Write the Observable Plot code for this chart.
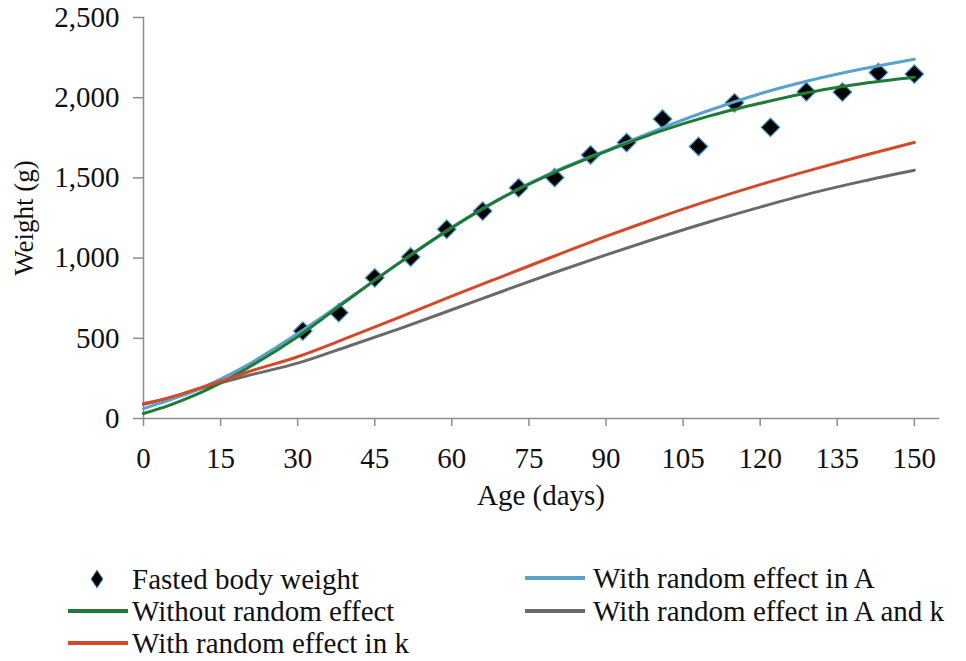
<!DOCTYPE html>
<html>
<head>
<meta charset="utf-8">
<script src="https://cdn.jsdelivr.net/npm/d3@7"></script>
<script src="https://cdn.jsdelivr.net/npm/@observablehq/plot@0.6"></script>
<style>
  html, body { margin: 0; padding: 0; background: #fff; overflow: hidden; }
  #wrap { position: relative; width: 966px; height: 661px; font-family: "Liberation Serif", "Times New Roman", serif; }
  .leg { position: absolute; display: flex; align-items: center; font-size: 29px; color: #111; white-space: nowrap; line-height: 1; }
  .leg svg { flex: none; }
</style>
</head>
<body>
<div id="wrap"></div>
<script>
// Observed data (Fasted body weight)
const obsAge = [31, 38, 45, 52, 59, 66, 73, 80, 87, 94, 101, 108, 115, 122, 129, 136, 143, 150];
const obsWeight = [545, 660, 877, 1007, 1180, 1293, 1438, 1502, 1643, 1720, 1867, 1696, 1968, 1815, 2037, 2035, 2157, 2147];

// Fitted curves
const curveAge = [0, 5, 10, 15, 20, 30, 40, 50, 60, 70, 80, 90, 100, 110, 120, 130, 140, 150];
const noRandom = [31, 82, 145, 222, 310, 510, 745, 975, 1190, 1380, 1535, 1665, 1785, 1885, 1965, 2036, 2088, 2127];
const randomA  = [62, 115, 172, 245, 330, 530, 750, 975, 1190, 1380, 1540, 1670, 1800, 1920, 2025, 2110, 2180, 2240];
const randomK  = [93, 130, 180, 232, 287, 385, 507, 633, 763, 888, 1013, 1135, 1250, 1358, 1458, 1550, 1638, 1721];
const randomAK = [88, 128, 176, 222, 265, 345, 452, 562, 678, 795, 910, 1020, 1125, 1225, 1318, 1405, 1480, 1548];

const xTicks = [0, 15, 30, 45, 60, 75, 90, 105, 120, 135, 150];
const yTicks = [0, 500, 1000, 1500, 2000, 2500];

const seriesNames = ["Fasted body weight", "Without random effect", "With random effect in k", "With random effect in A", "With random effect in A and k"];
const colors = {
  "Without random effect": "#1f7a36",
  "With random effect in k": "#d44a28",
  "With random effect in A": "#5aa2cc",
  "With random effect in A and k": "#6a6a6a"
};

const obs = obsAge.map((a, i) => ({age: a, w: obsWeight[i]}));
const mk = (vals, name) => curveAge.map((a, i) => ({age: a, w: vals[i], s: name}));
const curves = {
  "Without random effect": mk(noRandom, "Without random effect"),
  "With random effect in k": mk(randomK, "With random effect in k"),
  "With random effect in A": mk(randomA, "With random effect in A"),
  "With random effect in A and k": mk(randomAK, "With random effect in A and k")
};

const fmt = d3.format(",");
const lineOpts = (name) => ({x: "age", y: "w", stroke: colors[name], strokeWidth: 3, curve: "monotone-x"});

const chart = Plot.plot({
  width: 966,
  height: 530,
  marginLeft: 143,
  marginRight: 28,
  marginTop: 17,
  marginBottom: 112,
  style: {fontFamily: "Liberation Serif, Times New Roman, serif", fontSize: "29px", color: "#111", background: "#fff"},
  x: {domain: [0, 154.7]},
  y: {domain: [0, 2500]},
  marks: [
    Plot.frame({anchor: "bottom", stroke: "#8c8c8c", strokeWidth: 1.5}),
    Plot.frame({anchor: "left", stroke: "#8c8c8c", strokeWidth: 1.5}),
    Plot.axisX({ticks: xTicks, tickSize: 8, tickPadding: 21, stroke: "#8c8c8c", strokeWidth: 1.5, fontSize: 29, tickFormat: d => d, label: "Age (days)", labelArrow: "none", labelAnchor: "center", labelOffset: 86}),
    Plot.axisY({ticks: yTicks, tickSize: 10, tickPadding: 14, stroke: "#8c8c8c", strokeWidth: 1.5, fontSize: 29, tickFormat: fmt, label: null}),
    Plot.axisY({ticks: [], tickSize: 0, fontSize: 27, label: "Weight (g)", labelArrow: "none", labelAnchor: "center", labelOffset: 130}),
    Plot.dot(obs, {x: "age", y: "w", symbol: "diamond2", r: 8.4, fill: "#000", stroke: "#4a9fd0", strokeWidth: 1.2}),
    Plot.line(curves["With random effect in A and k"], lineOpts("With random effect in A and k")),
    Plot.line(curves["With random effect in A"], lineOpts("With random effect in A")),
    Plot.line(curves["Without random effect"], lineOpts("Without random effect")),
    Plot.line(curves["With random effect in k"], lineOpts("With random effect in k"))
  ]
});
const wrap = document.getElementById("wrap");
chart.style.position = "absolute";
chart.style.left = "0px";
chart.style.top = "0px";
wrap.appendChild(chart);

// Legend (HTML, below the SVG)
const legendPos = [
  {left: 68, top: 579},
  {left: 68, top: 611},
  {left: 68, top: 643},
  {left: 525, top: 578},
  {left: 525, top: 611}
];
seriesNames.forEach((name, i) => {
  const d = document.createElement("div");
  d.className = "leg";
  d.style.left = legendPos[i].left + "px";
  d.style.top = (legendPos[i].top - 14) + "px";
  d.style.height = "28px";
  const sw = i === 0
    ? `<svg width="62" height="24"><polygon points="29,3 35,12 29,21 23,12" fill="#000" stroke="#4a9fd0" stroke-width="1"/></svg>`
    : `<svg width="62" height="24"><line x1="0" x2="60" y1="12" y2="12" stroke="${colors[name]}" stroke-width="4"/></svg>`;
  d.innerHTML = sw + `<span style="margin-left:${i < 3 ? 2 : 6}px">${name}</span>`;
  wrap.appendChild(d);
});
</script>
</body>
</html>
